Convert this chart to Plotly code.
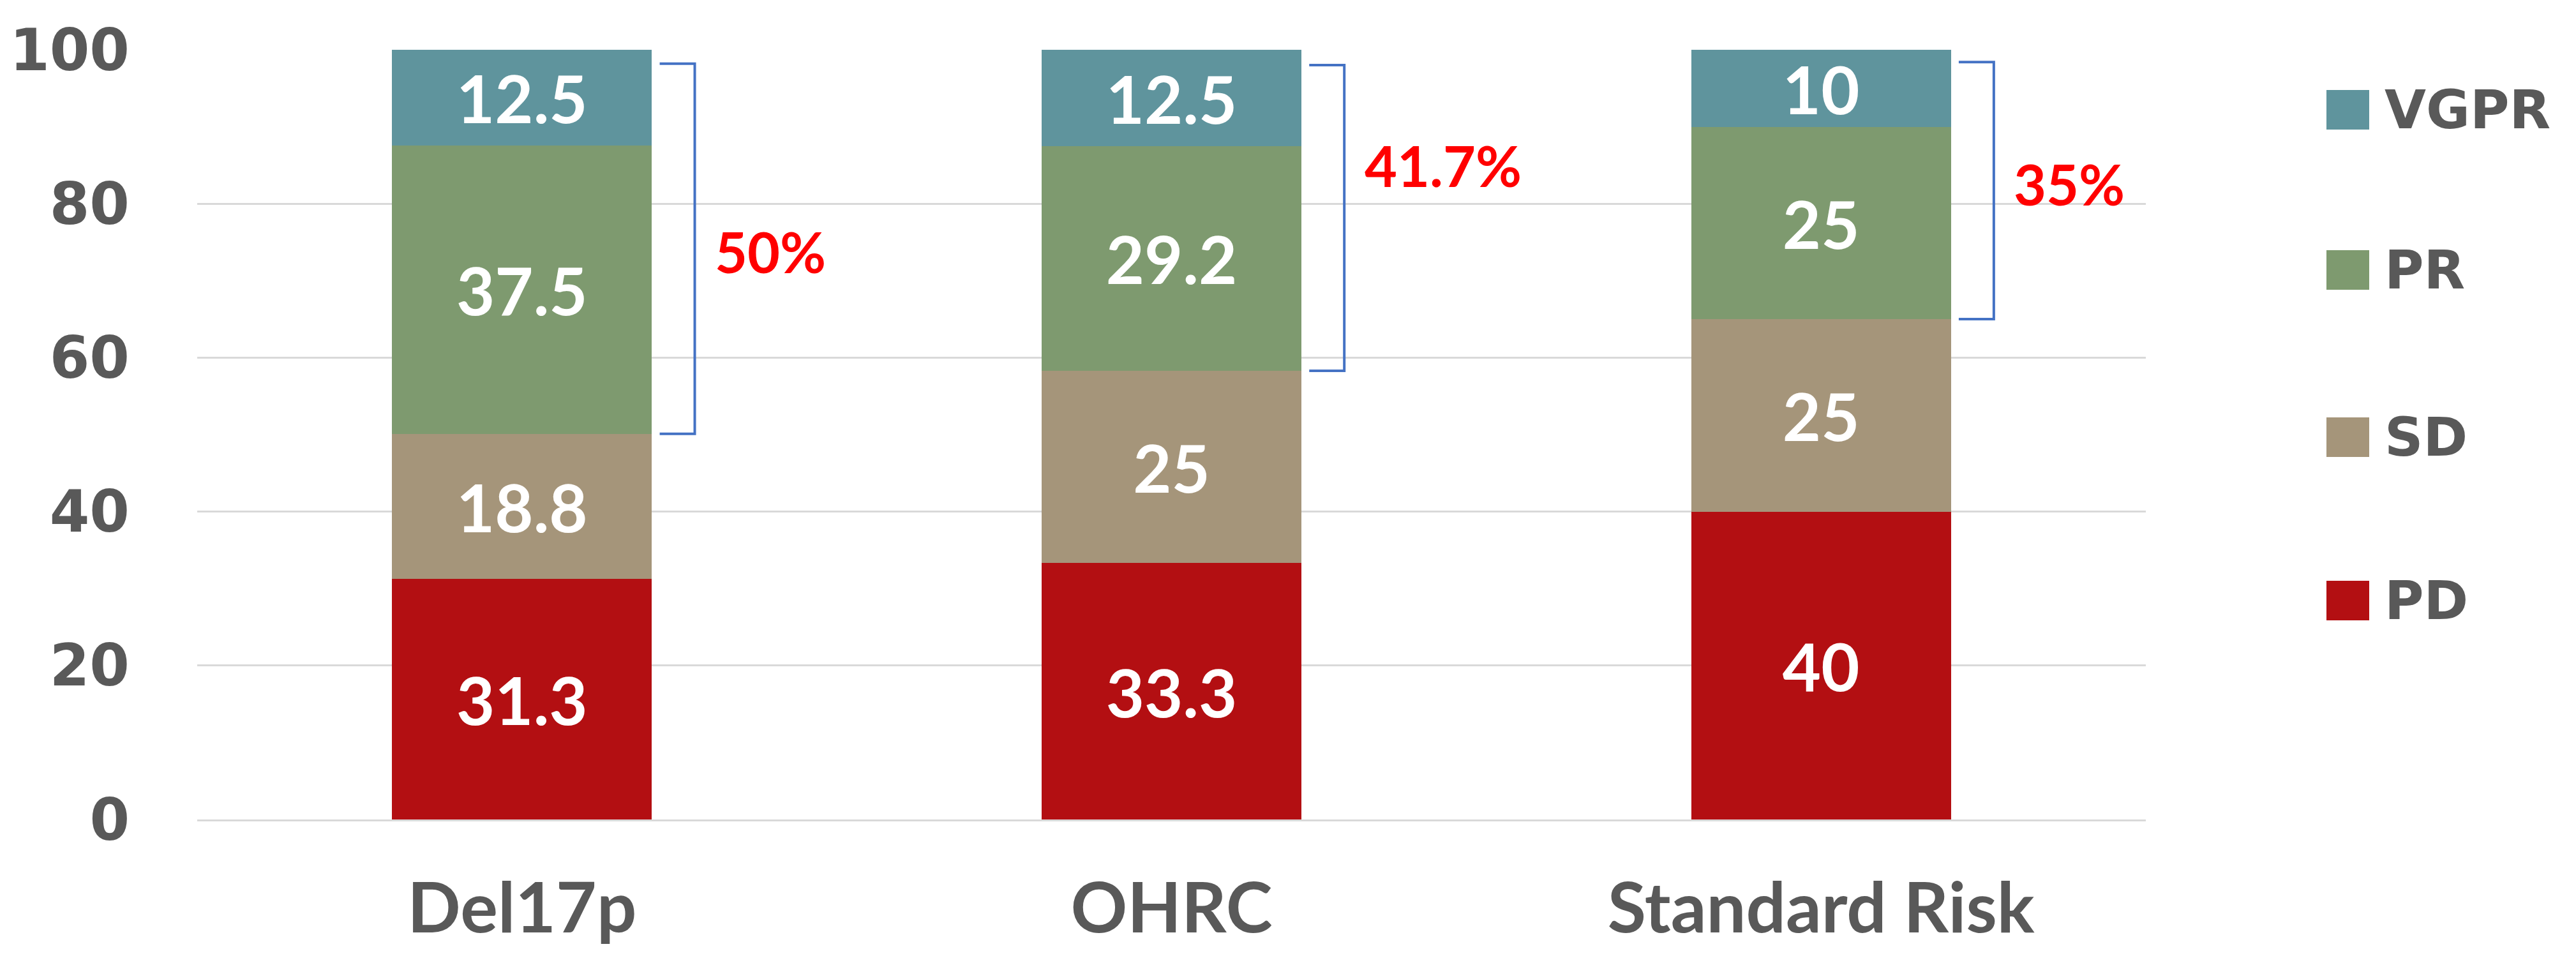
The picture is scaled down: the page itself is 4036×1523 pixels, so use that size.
import plotly.graph_objects as go

categories = ["Del17p", "OHRC", "Standard Risk"]
series_names = ["PD", "SD", "PR", "VGPR"]
pd_vals = [31.3, 33.3, 40]
sd_vals = [18.8, 25, 25]
pr_vals = [37.5, 29.2, 25]
vgpr_vals = [12.5, 12.5, 10]
bracket_labels = ["50%", "41.7%", "35%"]
bracket_label_y = [73.8, 85.0, 82.6]
bracket_top = [98.2, 98.0, 98.4]
y_ticks = [0, 20, 40, 60, 80, 100]

colors = {"PD": "#B30F12", "SD": "#A5957A", "PR": "#7E9A6F", "VGPR": "#5F949D"}
values = {"PD": pd_vals, "SD": sd_vals, "PR": pr_vals, "VGPR": vgpr_vals}

W, H = 4036, 1523
L, R, T, B = 301, 3354, 70, 1276


def px(x):
    return (x - L) / (R - L)


def py(y):
    return (B - y) / (B - T)


fig = go.Figure()
for name in series_names:
    fig.add_trace(go.Bar(
        x=categories, y=values[name], name=name,
        marker=dict(color=colors[name], line=dict(width=0)),
        text=[f"{v:g}" for v in values[name]],
        textposition="inside", insidetextanchor="middle", textangle=0,
        constraintext="none",
        textfont=dict(family="Lato", size=104, color="white", weight="bold"),
        showlegend=False,
    ))

shapes = []
annotations = []
for i, cat in enumerate(categories):
    low = pd_vals[i] + sd_vals[i]
    top = bracket_top[i]
    x0 = i + 0.212
    x1 = i + 0.266
    shapes.append(dict(
        type="path", xref="x", yref="y",
        path=f"M {x0} {top} L {x1} {top} L {x1} {low} L {x0} {low}",
        line=dict(color="#4472C4", width=4),
    ))
    annotations.append(dict(
        x=i + 0.295, y=bracket_label_y[i], xref="x", yref="y",
        text=bracket_labels[i], showarrow=False, xanchor="left", yanchor="middle",
        font=dict(family="Lato", size=88, color="#FF0000", weight="bold"),
    ))

# custom legend
legend_order = ["VGPR", "PR", "SD", "PD"]
legend_centers = [164, 415, 677, 933]
for name, cy in zip(legend_order, legend_centers):
    shapes.append(dict(
        type="rect", xref="paper", yref="paper",
        x0=px(3637), x1=px(3704), y0=py(cy + 31), y1=py(cy - 31),
        fillcolor=colors[name], line=dict(width=0),
    ))
    annotations.append(dict(
        x=px(3726), y=py(cy), xref="paper", yref="paper",
        text=name, showarrow=False, xanchor="left", yanchor="middle",
        font=dict(family="DejaVu Sans", size=84, color="#595959", weight="bold"),
    ))

fig.update_layout(
    barmode="stack",
    bargap=0.6,
    width=W, height=H,
    margin=dict(l=L, r=W - R, t=T, b=H - B, pad=0, autoexpand=False),
    plot_bgcolor="white", paper_bgcolor="white",
    shapes=shapes, annotations=annotations,
    showlegend=False,
    xaxis=dict(
        range=[-0.5, 2.5], showgrid=False, showline=True, linecolor="#D9D9D9", linewidth=3,
        ticks="", ticklabelstandoff=42, automargin=False,
        tickfont=dict(family="Lato", size=110, color="#595959", weight="bold"),
    ),
    yaxis=dict(
        range=[0, 100], tickvals=y_ticks, showgrid=True, gridcolor="#D9D9D9", gridwidth=3,
        zeroline=False, showline=False, ticks="", ticklabelstandoff=105, automargin=False,
        tickfont=dict(family="DejaVu Sans", size=90, color="#595959", weight="bold"),
    ),
)

fig.write_html("out.html")
